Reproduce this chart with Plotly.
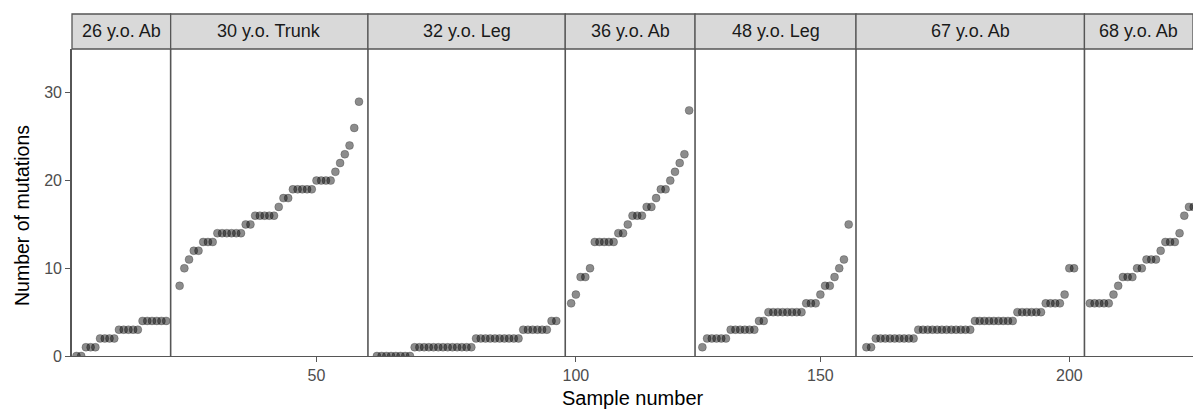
import plotly.graph_objects as go

# ---- data ----
panel_labels = ["26 y.o. Ab", "30 y.o. Trunk", "32 y.o. Leg", "36 y.o. Ab",
                "48 y.o. Leg", "67 y.o. Ab", "68 y.o. Ab"]

mut_26_ab = [0, 0, 1, 1, 1, 2, 2, 2, 2, 3, 3, 3, 3, 3, 4, 4, 4, 4, 4, 4]
mut_30_trunk = [8, 10, 11, 12, 12, 13, 13, 13, 14, 14, 14, 14, 14, 14, 15, 15,
                16, 16, 16, 16, 16, 17, 18, 18, 19, 19, 19, 19, 19, 20, 20, 20,
                20, 21, 22, 23, 24, 26, 29]
mut_32_leg = [0, 0, 0, 0, 0, 0, 0, 0,
              1, 1, 1, 1, 1, 1, 1, 1, 1, 1, 1, 1, 1,
              2, 2, 2, 2, 2, 2, 2, 2, 2, 2,
              3, 3, 3, 3, 3, 3, 4, 4]
mut_36_ab = [6, 7, 9, 9, 10, 13, 13, 13, 13, 13, 14, 14, 15, 16, 16, 16, 17, 17,
             18, 19, 19, 20, 21, 22, 23, 28]
mut_48_leg = [1, 2, 2, 2, 2, 2, 3, 3, 3, 3, 3, 3, 4, 4, 5, 5, 5, 5, 5, 5, 5, 5,
              6, 6, 6, 7, 8, 8, 9, 10, 11, 15]
mut_67_ab = [1, 1, 2, 2, 2, 2, 2, 2, 2, 2, 2,
             3, 3, 3, 3, 3, 3, 3, 3, 3, 3, 3, 3,
             4, 4, 4, 4, 4, 4, 4, 4, 4,
             5, 5, 5, 5, 5, 5, 6, 6, 6, 6, 7, 10, 10]
mut_68_ab = [6, 6, 6, 6, 6, 7, 8, 9, 9, 9, 10, 10, 11, 11, 11, 12, 13, 13, 13,
             14, 16, 17, 17]

panel_values = [mut_26_ab, mut_30_trunk, mut_32_leg, mut_36_ab,
                mut_48_leg, mut_67_ab, mut_68_ab]

x_tickvals = [50, 100, 150, 200]
y_tickvals = [0, 10, 20, 30]
y_max = 35

# ---- layout geometry ----
W, H = 1193, 409
ML, MR, MT, MB = 72, 0, 49, 53
plot_w = W - ML - MR
plot_h = H - MT - MB
px_per_unit = 4.72
strip_px = 35
last_visible_lower_pad = 1.15

FONT = "Liberation Sans, Arial, sans-serif"
LINE_COL = "#565656"
TICK_FONT = dict(family=FONT, size=16, color="#4D4D4D")

fig = go.Figure()

start = 1
cursor_px = 0.0
shapes, annotations = [], []
for i, (label, vals) in enumerate(zip(panel_labels, panel_values)):
    n = len(vals)
    xs = list(range(start, start + n))
    axn = "" if i == 0 else str(i + 1)
    if i < len(panel_values) - 1:
        pad = 0.05 * (n - 1)
        lo, hi = xs[0] - pad, xs[-1] + pad
        width_px = (hi - lo) * px_per_unit
        dom = [cursor_px / plot_w, (cursor_px + width_px) / plot_w]
    else:
        lo = xs[0] - last_visible_lower_pad
        width_px = plot_w - cursor_px
        hi = lo + width_px / px_per_unit
        dom = [cursor_px / plot_w, 1.0]
    cursor_px += width_px

    fig.add_trace(go.Scatter(
        x=xs, y=vals, mode="markers", xaxis="x" + axn, yaxis="y",
        marker=dict(size=8, color="rgba(0,0,0,0.45)",
                    line=dict(color="rgba(0,0,0,0.22)", width=1)),
        showlegend=False, hoverinfo="x+y"))

    fig.layout["xaxis" + axn] = dict(
        domain=dom, range=[lo, hi], anchor="y",
        tickvals=x_tickvals, ticks="outside", ticklen=5, tickwidth=1.2,
        tickcolor=LINE_COL, tickfont=TICK_FONT,
        showline=True, linecolor=LINE_COL, linewidth=1.3,
        showgrid=False, zeroline=False, fixedrange=True)

    # strip
    shapes.append(dict(type="rect", xref=f"x{axn} domain", yref="paper",
                       x0=0, x1=1, y0=1, y1=1 + strip_px / plot_h,
                       fillcolor="#D9D9D9", line=dict(color=LINE_COL, width=1.3),
                       layer="above"))
    annotations.append(dict(text=label, xref=f"x{axn} domain", yref="paper",
                            x=0.5, y=1 + strip_px / plot_h / 2, showarrow=False,
                            xanchor="center", yanchor="middle",
                            font=dict(family=FONT, size=18, color="#1A1A1A")))
    # panel separator (left border of panel)
    if i > 0:
        shapes.append(dict(type="line", xref=f"x{axn} domain", yref="paper",
                           x0=0, x1=0, y0=0, y1=1,
                           line=dict(color=LINE_COL, width=1.6), layer="above"))
    start += n

annotations.append(dict(text="Sample number", xref="paper", yref="paper",
                        x=0.5, y=-(398 - (H - MB)) / plot_h, showarrow=False,
                        xanchor="center", yanchor="middle",
                        font=dict(family=FONT, size=20, color="#000000")))
annotations.append(dict(text="Number of mutations", xref="paper", yref="paper",
                        x=(22 - ML) / plot_w, y=(H - MB - 216) / plot_h,
                        textangle=-90, showarrow=False,
                        xanchor="center", yanchor="middle",
                        font=dict(family=FONT, size=19.5, color="#000000")))

fig.update_layout(
    width=W, height=H,
    margin=dict(l=ML, r=MR, t=MT, b=MB, pad=0),
    paper_bgcolor="white", plot_bgcolor="white",
    yaxis=dict(range=[0, y_max], tickvals=y_tickvals, ticks="outside", ticklen=5,
               tickwidth=1.2, tickcolor=LINE_COL, tickfont=TICK_FONT,
               showline=True, linecolor=LINE_COL, linewidth=1.6,
               showgrid=False, zeroline=False, anchor="x", fixedrange=True),
    shapes=shapes, annotations=annotations,
)

fig.write_html("out.html")
